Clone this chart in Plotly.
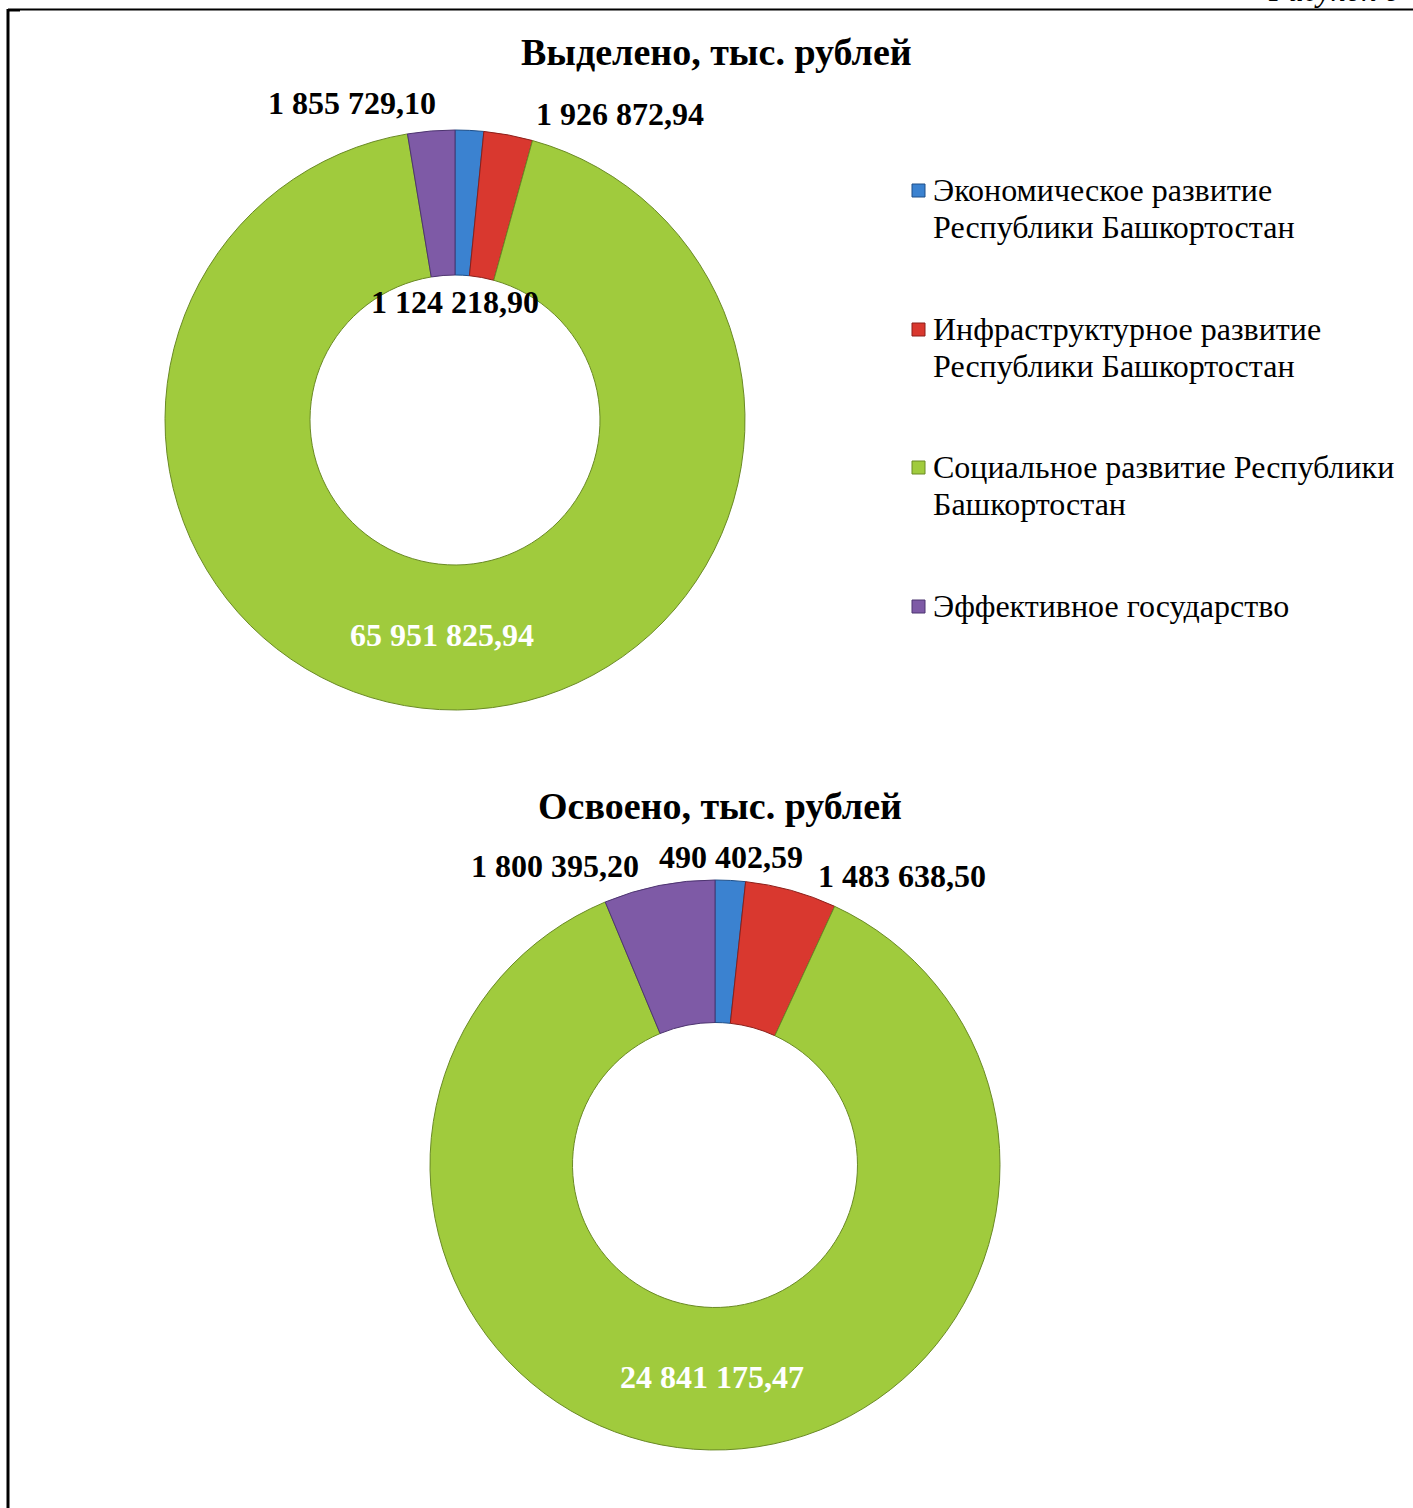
import plotly.graph_objects as go

W, H = 1413, 1508

categories = [
    "Экономическое развитие<br>Республики Башкортостан",
    "Инфраструктурное развитие<br>Республики Башкортостан",
    "Социальное развитие Республики<br>Башкортостан",
    "Эффективное государство",
]
allocated = [1124218.90, 1926872.94, 65951825.94, 1855729.10]
spent = [490402.59, 1483638.50, 24841175.47, 1800395.20]
colors = ["#3b82d0", "#d9382f", "#a0cb3d", "#7e5aa6"]
line_colors = ["#1f4f88", "#8c1f1a", "#6a8a25", "#4d3470"]

title_top = "Выделено, тыс. рублей"
title_bottom = "Освоено, тыс. рублей"
caption = "Рисунок 6"


def fmt(v):
    return f"{v:,.2f}".replace(",", " ").replace(".", ",")


def px(x):
    return x / W


def py(y):
    return 1 - y / H


FONT = "Liberation Serif"

fig = go.Figure()

fig.add_trace(go.Pie(
    values=allocated, labels=categories, hole=0.5, sort=False,
    direction="clockwise", rotation=0, textinfo="none",
    marker=dict(colors=colors, line=dict(color=line_colors, width=1)),
    domain=dict(x=[px(165), px(745)], y=[py(710), py(130)]),
    showlegend=False,
))
fig.add_trace(go.Pie(
    values=spent, labels=categories, hole=0.5, sort=False,
    direction="clockwise", rotation=0, textinfo="none",
    marker=dict(colors=colors, line=dict(color=line_colors, width=1)),
    domain=dict(x=[px(430), px(1000)], y=[py(1450), py(880)]),
    showlegend=False,
))

ann = []


def add_text(text, x, y, size, color="black", xanchor="center", yanchor="middle"):
    ann.append(dict(text=text, x=px(x), y=py(y), xref="paper", yref="paper",
                    xanchor=xanchor, yanchor=yanchor, showarrow=False,
                    font=dict(family=FONT, size=size, color=color)))


# titles
add_text(f"<b>{title_top}</b>", 716, 52, 38)
add_text(f"<b>{title_bottom}</b>", 720, 806, 38)

# data labels (positions in pixels)
top_pos = [(455, 302, "black"), (620, 114, "black"), (442, 635, "white"), (352, 103, "black")]
bot_pos = [(731, 857, "black"), (902, 876, "black"), (712, 1377, "white"), (555, 866, "black")]
for vals, pos in ((allocated, top_pos), (spent, bot_pos)):
    for v, (x, y, c) in zip(vals, pos):
        add_text(f"<b>{fmt(v)}</b>", x, y, 32, c)

# custom legend
leg_y = [190, 329, 467, 606]
shapes = []
for cat, c, lc, y in zip(categories, colors, line_colors, leg_y):
    shapes.append(dict(type="rect", xref="paper", yref="paper",
                       x0=px(912), x1=px(925), y0=py(y + 7), y1=py(y - 6),
                       fillcolor=c, line=dict(color=lc, width=1)))
    for i, line in enumerate(cat.split("<br>")):
        add_text(line, 931, y + i * 37, 32, xanchor="left")

# frame lines
shapes.append(dict(type="line", xref="paper", yref="paper", x0=px(8), x1=1, y0=py(9.5), y1=py(9.5),
                   line=dict(color="black", width=2)))
shapes.append(dict(type="line", xref="paper", yref="paper", x0=px(8), x1=px(8), y0=py(9), y1=0,
                   line=dict(color="black", width=3)))
shapes.append(dict(type="line", xref="paper", yref="paper", x0=px(7), x1=px(20), y0=py(10.5), y1=py(10.5),
                   line=dict(color="black", width=2)))

# caption at top right (cut off at the page edge as in the reference)
add_text(f"<i>{caption}</i>", 1402, 10, 31, xanchor="right", yanchor="bottom")

fig.update_layout(
    width=W, height=H, margin=dict(l=0, r=0, t=0, b=0),
    paper_bgcolor="white", plot_bgcolor="white",
    annotations=ann, shapes=shapes,
)

fig.write_html("out.html", config={"displayModeBar": False},
               post_script="document.body.style.margin='0';")
